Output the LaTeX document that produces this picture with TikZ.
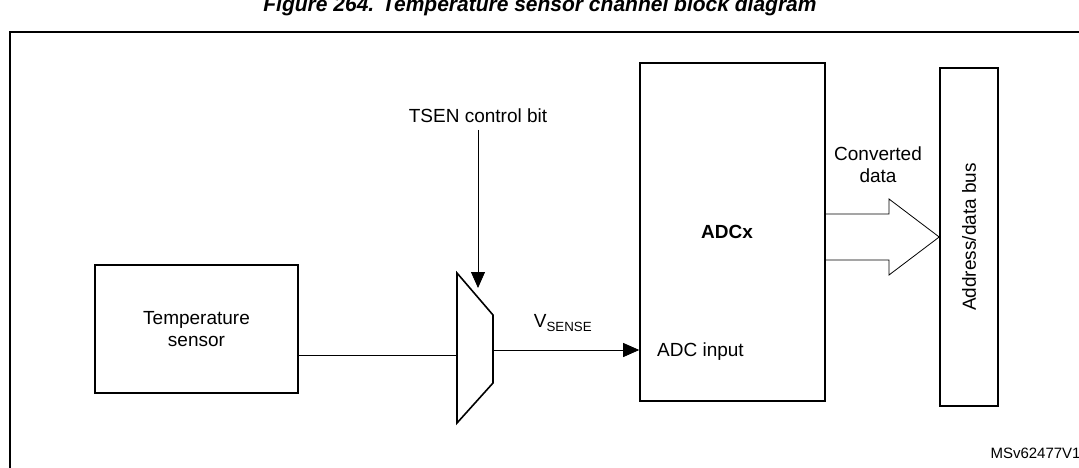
\documentclass[tikz,border=0pt]{standalone}
\usepackage{fontspec}
\setmainfont{Liberation Sans}
\usetikzlibrary{arrows.meta, positioning}
\newcommand{\drawb}{\draw[line width=1.6pt]}
\tikzset{
  lbl/.style={font=\fontsize{19}{22}\selectfont, align=center, inner sep=0pt},
  blk/.style={draw, line width=1.6pt, inner sep=0pt},
  sig/.style={line width=0.8pt, -{Triangle[length=16pt,width=14pt]}},
}
\begin{document}
\begin{tikzpicture}[x=1pt, y=-1pt]
\useasboundingbox (0,0) rectangle (1079,468);
% titre et cadre
\node[font=\fontsize{21}{24}\selectfont\bfseries\itshape] (title) at (540,6) {Figure 264. Temperature sensor channel block diagram};
\drawb (1090,32) -- (10,32) -- (10,480);

% capteur
\node[blk, minimum width=203pt, minimum height=128pt, lbl] (sensor) at (196.5,329) {Temperature\\sensor};

% multiplexeur
\drawb (457,273) -- (493,315) -- (493,383) -- (457,423) -- cycle;
\coordinate (muxin) at (457,355);
\coordinate (muxout) at (493,350);
\coordinate (muxctl) at (478,288);
\draw[line width=0.8pt] (sensor.east |- muxin) -- (muxin);

% commande
\node[lbl] (tsen) at (478,116) {TSEN control bit};
\draw[sig] (tsen.south |- 0,130) -- (muxctl);

% ADC
\node[blk, minimum width=185pt, minimum height=338pt] (adc) at (732.5,232) {};
\node[lbl, font=\fontsize{19}{22}\selectfont\bfseries] (adcx) at (727,232) {ADCx};
\node[lbl, anchor=west] (adcin) at (657,352) {ADC input};
\draw[sig] (muxout) -- (adc.west |- muxout);
\node[lbl] (vsense) at (563,323) {V\textsubscript{SENSE}};

% bus
\node[blk, minimum width=58pt, minimum height=338pt] (bus) at (969,237) {};
\node[lbl, rotate=90] (busl) at (bus.center) {Address/data bus};

% fleche creuse
\draw[line width=0.8pt] (adc.east |- 0,214) -- (889,214) -- (889,199) -- (bus.west |- 0,237)
  -- (889,275) -- (889,260) -- (adc.east |- 0,260);
\node[lbl] (conv) at (878,165) {Converted\\data};

\node[font=\fontsize{15}{18}\selectfont, anchor=west] (ref) at (987,453) {MSv62477V1};
\end{tikzpicture}
\end{document}
